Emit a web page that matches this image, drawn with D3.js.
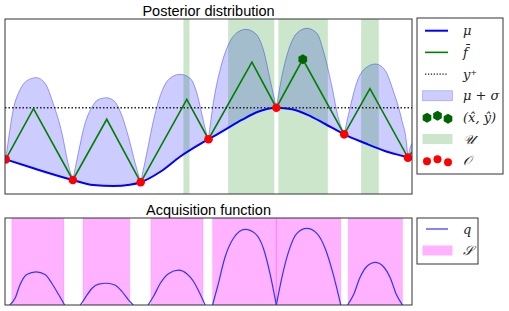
<!DOCTYPE html>
<html>
<head>
<meta charset="utf-8">
<script src="https://cdn.jsdelivr.net/npm/d3@7"></script>
<style>
body { margin: 0; background: #fff; }
</style>
</head>
<body>
<svg id="chart" width="509" height="311"></svg>
<script>
// observations O
var obsX = [0.01, 1.0, 2.0, 3.0, 4.0, 5.0, 5.94];
var obsY = [1.98, 0.80, 0.67, 3.13, 4.93, 3.41, 2.08];
var yPlus = 4.93;

// posterior mean mu
var muX = [0.01, 0.42, 1.0, 1.30, 1.60, 1.84, 2.0, 2.29, 2.58, 2.88, 3.0, 3.24, 3.49, 3.73, 4.0, 4.23, 4.47, 4.72, 5.0, 5.31, 5.60, 5.94, 6.0];
var muY = [1.98, 1.47, 0.80, 0.51, 0.46, 0.53, 0.67, 1.27, 2.13, 2.86, 3.13, 3.66, 4.23, 4.70, 4.93, 4.84, 4.51, 4.00, 3.41, 2.90, 2.46, 2.08, 2.0];

// f bar (piecewise linear)
var fbarX = [0.01, 0.42, 1.0, 1.50, 2.0, 2.68, 3.0, 3.64, 4.0, 4.39, 5.0, 5.38, 5.94, 6.0];
var fbarY = [1.98, 4.88, 0.80, 4.27, 0.67, 5.41, 3.13, 7.53, 4.93, 7.70, 3.41, 6.02, 2.08, 2.40];

// proposed point (x hat, y hat)
var hatX = [4.39];
var hatY = [7.70];

// mu + sigma, one bump per interval
var upperBumps = [
  [[0.01,1.98],[0.05,3.09],[0.12,4.80],[0.22,5.94],[0.32,6.47],[0.46,6.65],[0.59,6.33],[0.71,5.18],[0.84,3.47],[0.93,1.75],[1.0,0.80]],
  [[1.0,0.80],[1.08,2.33],[1.18,4.04],[1.28,4.95],[1.38,5.41],[1.50,5.50],[1.62,5.27],[1.72,4.51],[1.82,3.27],[1.92,1.75],[2.0,0.67]],
  [[2.0,0.67],[2.09,2.33],[2.19,4.23],[2.31,5.85],[2.43,6.61],[2.58,6.84],[2.73,6.61],[2.83,5.75],[2.90,4.61],[2.97,3.47],[3.0,3.13]],
  [[3.0,3.13],[3.07,5.18],[3.17,7.09],[3.29,8.51],[3.42,9.22],[3.55,9.41],[3.69,9.18],[3.81,8.23],[3.91,6.51],[4.0,4.93]],
  [[4.0,4.93],[4.08,6.70],[4.18,8.23],[4.30,9.18],[4.45,9.47],[4.60,9.18],[4.69,8.23],[4.82,6.13],[4.91,4.42],[5.0,3.41]],
  [[5.0,3.41],[5.09,4.99],[5.19,6.42],[5.31,7.18],[5.46,7.43],[5.60,7.09],[5.72,5.94],[5.85,4.23],[5.92,2.90],[5.94,2.08]],
  [[5.94,2.08],[5.97,2.60],[6.0,2.90]]
];

// U regions
var uStart = [2.63, 3.29, 4.03, 5.25];
var uEnd = [2.72, 3.97, 4.76, 5.51];

// acquisition q, one bump per interval
var qBumps = [
  [[0.07,0],[0.15,0.08],[0.22,0.23],[0.32,0.35],[0.46,0.38],[0.59,0.35],[0.69,0.25],[0.79,0.12],[0.88,0]],
  [[1.11,0],[1.18,0.08],[1.28,0.19],[1.38,0.24],[1.50,0.25],[1.62,0.23],[1.72,0.16],[1.82,0.06],[1.89,0]],
  [[2.11,0],[2.19,0.10],[2.29,0.25],[2.41,0.36],[2.56,0.40],[2.68,0.36],[2.78,0.27],[2.88,0.12],[2.95,0]],
  [[3.06,0],[3.14,0.23],[3.24,0.54],[3.37,0.77],[3.54,0.87],[3.69,0.82],[3.81,0.65],[3.91,0.35],[4.0,0]],
  [[4.0,0],[4.08,0.31],[4.18,0.61],[4.30,0.82],[4.45,0.88],[4.60,0.82],[4.72,0.65],[4.84,0.35],[4.95,0]],
  [[5.05,0],[5.14,0.12],[5.23,0.31],[5.33,0.44],[5.46,0.49],[5.58,0.44],[5.68,0.31],[5.77,0.12],[5.86,0]]
];

// S regions
var sStart = [0.10, 1.15, 2.15, 3.06, 3.995, 5.06];
var sEnd = [0.87, 1.84, 2.92, 4.0, 4.95, 5.86];

var svg = d3.select("#chart");
var left = 5, right = 412;
var top1 = 19, bot1 = 194;
var top2 = 218, bot2 = 305;

var x = d3.scaleLinear().domain([0, 6]).range([left, right]);
var y = d3.scaleLinear().domain([0, 10]).range([bot1, top1]);
var yq = d3.scaleLinear().domain([0, 1]).range([bot2, top2]);

var defs = svg.append("defs");
defs.append("clipPath").attr("id", "clip1")
  .append("rect").attr("x", left).attr("y", top1).attr("width", right-left).attr("height", bot1-top1);
defs.append("clipPath").attr("id", "clip2")
  .append("rect").attr("x", left).attr("y", top2).attr("width", right-left).attr("height", bot2-top2);

var mu = muX.map(function(d, i) { return [d, muY[i]]; });
// region above mu, used to cut the sigma bumps
defs.append("clipPath").attr("id", "aboveMu")
  .append("path")
  .attr("d", d3.area().x(function(d) { return x(d[0]); }).y0(0).y1(function(d) { return y(d[1]); })
    .curve(d3.curveMonotoneX)(mu));

// ---- top panel ----
var g1 = svg.append("g").attr("clip-path", "url(#clip1)");

var bandG = g1.append("g").attr("clip-path", "url(#aboveMu)");
bandG.selectAll("path").data(upperBumps).enter().append("path")
  .attr("d", d3.area().x(function(d) { return x(d[0]); }).y0(bot1).y1(function(d) { return y(d[1]); })
    .curve(d3.curveMonotoneX))
  .attr("fill", "rgb(204,204,255)");
g1.selectAll(".edge").data(upperBumps).enter().append("path")
  .attr("class", "edge")
  .attr("d", d3.line().x(function(d) { return x(d[0]); }).y(function(d) { return y(d[1]); })
    .curve(d3.curveMonotoneX))
  .attr("fill", "none").attr("stroke", "rgba(0,0,255,0.45)").attr("stroke-width", 0.8);

g1.selectAll(".u").data(uStart).enter().append("rect")
  .attr("class", "u")
  .attr("x", function(d) { return x(d); })
  .attr("width", function(d, i) { return x(uEnd[i]) - x(d); })
  .attr("y", top1).attr("height", bot1 - top1)
  .attr("fill", "green").attr("fill-opacity", 0.2);

g1.append("path")
  .attr("d", d3.line().x(function(d) { return x(d[0]); }).y(function(d) { return y(d[1]); })
    .curve(d3.curveMonotoneX)(mu))
  .attr("fill", "none").attr("stroke", "#0000ff").attr("stroke-width", 2);

g1.append("path")
  .attr("d", d3.line().x(function(d) { return x(d); }).y(function(d, i) { return y(fbarY[i]); })(fbarX))
  .attr("fill", "none").attr("stroke", "#008000").attr("stroke-width", 1.6);

g1.append("line")
  .attr("x1", left).attr("x2", right).attr("y1", y(yPlus)).attr("y2", y(yPlus))
  .attr("stroke", "#222").attr("stroke-width", 1.5).attr("stroke-dasharray", "1.5,2");

g1.selectAll(".obs").data(obsX).enter().append("circle")
  .attr("class", "obs")
  .attr("cx", function(d) { return x(d); })
  .attr("cy", function(d, i) { return y(obsY[i]); })
  .attr("r", 4.3).attr("fill", "#ff0000");

function hexPath(cx, cy, r) {
  var pts = d3.range(6).map(function(k) {
    var a = Math.PI / 2 + k * Math.PI / 3;
    return [cx + r * Math.cos(a), cy - r * Math.sin(a)];
  });
  return d3.line()(pts) + "Z";
}
g1.selectAll(".hat").data(hatX).enter().append("path")
  .attr("class", "hat")
  .attr("d", function(d, i) { return hexPath(x(d), y(hatY[i]), 5); })
  .attr("fill", "#006400");

svg.append("rect").attr("x", left).attr("y", top1).attr("width", right-left).attr("height", bot1-top1)
  .attr("fill", "none").attr("stroke", "#333").attr("stroke-width", 1);

svg.append("text").attr("x", (left+right)/2).attr("y", 15.5)
  .attr("text-anchor", "middle").attr("font-family", "Liberation Sans, Arial, sans-serif")
  .attr("font-size", 14.5).text("Posterior distribution");

// ---- bottom panel ----
var g2 = svg.append("g").attr("clip-path", "url(#clip2)");
g2.selectAll(".s").data(sStart).enter().append("rect")
  .attr("class", "s")
  .attr("x", function(d) { return x(d); })
  .attr("width", function(d, i) { return x(sEnd[i]) - x(d); })
  .attr("y", top2).attr("height", bot2 - top2)
  .attr("fill", "#ff00ff").attr("fill-opacity", 0.3)
  .attr("stroke", "#ff00ff").attr("stroke-opacity", 0.12).attr("stroke-width", 1);

g2.selectAll(".q").data(qBumps).enter().append("path")
  .attr("class", "q")
  .attr("d", d3.line().x(function(d) { return x(d[0]); }).y(function(d) { return yq(d[1]); })
    .curve(d3.curveMonotoneX))
  .attr("fill", "none").attr("stroke", "#3333ff").attr("stroke-width", 1.2);

svg.append("rect").attr("x", left).attr("y", top2).attr("width", right-left).attr("height", bot2-top2)
  .attr("fill", "none").attr("stroke", "#333").attr("stroke-width", 1);

svg.append("text").attr("x", (left+right)/2).attr("y", 214.5)
  .attr("text-anchor", "middle").attr("font-family", "Liberation Sans, Arial, sans-serif")
  .attr("font-size", 14.5).text("Acquisition function");

// ---- legends ----
var legFont = "DejaVu Serif, serif";
var leg1 = svg.append("g");
leg1.append("rect").attr("x", 417).attr("y", 18).attr("width", 86).attr("height", 156)
  .attr("fill", "#fff").attr("stroke", "#333").attr("stroke-width", 1);
var labels1 = ["\u03bc", "f\u0304", "y\u207a", "\u03bc + \u03c3", "(x\u0302, \u0177)", "\ud835\udcb0", "\ud835\udcaa"];
var rowY = d3.scaleLinear().domain([0, 6]).range([30.7, 160.7]);
leg1.selectAll("text").data(labels1).enter().append("text")
  .attr("x", 463).attr("y", function(d, i) { return rowY(i) + 4.5; })
  .attr("font-family", legFont).attr("font-style", "italic").attr("font-size", 13)
  .attr("fill", "#222")
  .text(function(d) { return d; });

leg1.append("line").attr("x1", 425).attr("x2", 448).attr("y1", rowY(0)).attr("y2", rowY(0))
  .attr("stroke", "#0000ff").attr("stroke-width", 2);
leg1.append("line").attr("x1", 425).attr("x2", 448).attr("y1", rowY(1)).attr("y2", rowY(1))
  .attr("stroke", "#008000").attr("stroke-width", 1.6);
leg1.append("line").attr("x1", 425).attr("x2", 448).attr("y1", rowY(2)).attr("y2", rowY(2))
  .attr("stroke", "#222").attr("stroke-width", 1.3).attr("stroke-dasharray", "1.3,1.6");
leg1.append("rect").attr("x", 422.5).attr("y", rowY(3) - 5).attr("width", 30).attr("height", 10)
  .attr("fill", "rgb(204,204,255)").attr("stroke", "rgba(0,0,255,0.25)").attr("stroke-width", 0.8);
leg1.append("rect").attr("x", 422.5).attr("y", rowY(5) - 5).attr("width", 30).attr("height", 10)
  .attr("fill", "rgb(204,230,204)");
var scatOff = [0.5, -1.5, 1.5];
var scatX = [427, 437.5, 448];
leg1.selectAll(".lh").data(scatX).enter().append("path").attr("class", "lh")
  .attr("d", function(d, i) { return hexPath(d, rowY(4) + scatOff[i], 5); })
  .attr("fill", "#006400");
leg1.selectAll(".lo").data(scatX).enter().append("circle").attr("class", "lo")
  .attr("cx", function(d) { return d; })
  .attr("cy", function(d, i) { return rowY(6) + scatOff[i]; })
  .attr("r", 4).attr("fill", "#ff0000");

var leg2 = svg.append("g");
leg2.append("rect").attr("x", 417).attr("y", 218).attr("width", 61).attr("height", 46)
  .attr("fill", "#fff").attr("stroke", "#333").attr("stroke-width", 1);
leg2.append("line").attr("x1", 426).attr("x2", 448).attr("y1", 229).attr("y2", 229)
  .attr("stroke", "#3333ff").attr("stroke-width", 1.2);
leg2.append("rect").attr("x", 422.5).attr("y", 245.5).attr("width", 30).attr("height", 10)
  .attr("fill", "#ff00ff").attr("fill-opacity", 0.3);
leg2.selectAll("text").data(["q", "\ud835\udcae"]).enter().append("text")
  .attr("x", 463).attr("y", function(d, i) { return [229, 250.5][i] + 4.5; })
  .attr("font-family", legFont).attr("font-style", "italic").attr("font-size", 13)
  .attr("fill", "#222")
  .text(function(d) { return d; });
</script>
</body>
</html>
